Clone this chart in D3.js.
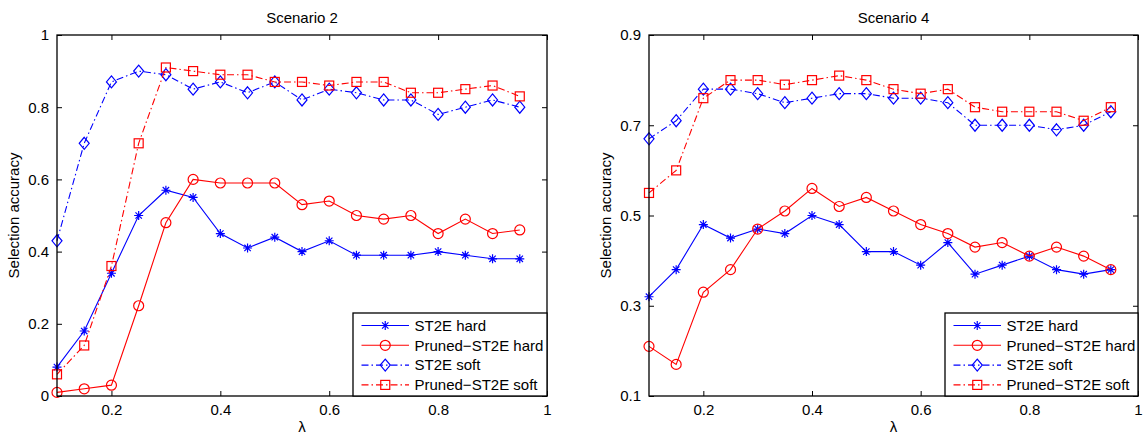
<!DOCTYPE html>
<html><head><meta charset="utf-8">
<script src="https://cdn.jsdelivr.net/npm/d3@7"></script>
<style>
html,body{margin:0;padding:0;background:#fff;}
svg text{font-family:"Liberation Sans",Arial,sans-serif;fill:#000;}
</style></head>
<body><svg id="chart" width="1143" height="434"></svg>
<script>
const lambda = [0.1,0.15,0.2,0.25,0.3,0.35,0.4,0.45,0.5,0.55,0.6,0.65,0.7,0.75,0.8,0.85,0.9,0.95];
const seriesNames = ["ST2E hard","Pruned\u2212ST2E hard","ST2E soft","Pruned\u2212ST2E soft"];
const xTicks = [0.2,0.4,0.6,0.8,1];

const s2_st2eHard   = [0.08,0.18,0.34,0.50,0.57,0.55,0.45,0.41,0.44,0.40,0.43,0.39,0.39,0.39,0.40,0.39,0.38,0.38];
const s2_prunedHard = [0.01,0.02,0.03,0.25,0.48,0.60,0.59,0.59,0.59,0.53,0.54,0.50,0.49,0.50,0.45,0.49,0.45,0.46];
const s2_st2eSoft   = [0.43,0.70,0.87,0.90,0.89,0.85,0.87,0.84,0.87,0.82,0.85,0.84,0.82,0.82,0.78,0.80,0.82,0.80];
const s2_prunedSoft = [0.06,0.14,0.36,0.70,0.91,0.90,0.89,0.89,0.87,0.87,0.86,0.87,0.87,0.84,0.84,0.85,0.86,0.83];
const s2_yTicks = [0,0.2,0.4,0.6,0.8,1];

const s4_st2eHard   = [0.32,0.38,0.48,0.45,0.47,0.46,0.50,0.48,0.42,0.42,0.39,0.44,0.37,0.39,0.41,0.38,0.37,0.38];
const s4_prunedHard = [0.21,0.17,0.33,0.38,0.47,0.51,0.56,0.52,0.54,0.51,0.48,0.46,0.43,0.44,0.41,0.43,0.41,0.38];
const s4_st2eSoft   = [0.67,0.71,0.78,0.78,0.77,0.75,0.76,0.77,0.77,0.76,0.76,0.75,0.70,0.70,0.70,0.69,0.70,0.73];
const s4_prunedSoft = [0.55,0.60,0.76,0.80,0.80,0.79,0.80,0.81,0.80,0.78,0.77,0.78,0.74,0.73,0.73,0.73,0.71,0.74];
const s4_yTicks = [0.1,0.3,0.5,0.7,0.9];

const styles = [
  {color:"#0000ff", dash:null, marker:"star"},
  {color:"#ff0000", dash:null, marker:"circle"},
  {color:"#0000ff", dash:"7,3,1.5,3", marker:"diamond"},
  {color:"#ff0000", dash:"7,3,1.5,3", marker:"square"}
];

const svg = d3.select("#chart");

function drawMarker(g, type, x, y, color){
  if(type==="circle"){
    g.append("circle").attr("cx",x).attr("cy",y).attr("r",5).attr("fill","none").attr("stroke",color).attr("stroke-width",1.2);
  } else if(type==="square"){
    g.append("rect").attr("x",x-4.5).attr("y",y-4.5).attr("width",9).attr("height",9).attr("fill","none").attr("stroke",color).attr("stroke-width",1.2);
  } else if(type==="diamond"){
    g.append("path").attr("d",`M${x},${y-6}L${x+5},${y}L${x},${y+6}L${x-5},${y}Z`).attr("fill","none").attr("stroke",color).attr("stroke-width",1.2);
  } else if(type==="star"){
    const r=4.5, d=3.2;
    g.append("path").attr("d",`M${x-r},${y}L${x+r},${y}M${x},${y-r}L${x},${y+r}M${x-d},${y-d}L${x+d},${y+d}M${x-d},${y+d}L${x+d},${y-d}`)
      .attr("stroke",color).attr("stroke-width",1.2).attr("fill","none");
  }
}

function panel(opts){
  const {left,right,top,bottom,yDomain,yTicks,data,title,legend} = opts;
  const g = svg.append("g");
  const x = d3.scaleLinear().domain([0.1,1]).range([left,right]);
  const y = d3.scaleLinear().domain(yDomain).range([bottom,top]);

  // series
  data.forEach((vals,i)=>{
    const st = styles[i];
    const line = d3.line().x((d,j)=>x(lambda[j])).y(d=>y(d));
    g.append("path").datum(vals).attr("d",line).attr("fill","none")
      .attr("stroke",st.color).attr("stroke-width",1.1)
      .attr("stroke-dasharray",st.dash);
    vals.forEach((v,j)=>drawMarker(g,st.marker,x(lambda[j]),y(v),st.color));
  });

  // axes
  const axB = d3.axisBottom(x).tickValues(xTicks).tickSizeInner(-5).tickSizeOuter(0).tickPadding(8).tickFormat(d3.format("~g"));
  const axT = d3.axisTop(x).tickValues(xTicks).tickSizeInner(-5).tickSizeOuter(0).tickFormat("");
  const axL = d3.axisLeft(y).tickValues(yTicks).tickSizeInner(-5).tickSizeOuter(0).tickPadding(8).tickFormat(d3.format("~g"));
  const axR = d3.axisRight(y).tickValues(yTicks).tickSizeInner(-5).tickSizeOuter(0).tickFormat("");
  [[axB,`translate(0,${bottom})`],[axT,`translate(0,${top})`],[axL,`translate(${left},0)`],[axR,`translate(${right},0)`]].forEach(([ax,tr])=>{
    const a = g.append("g").attr("transform",tr).call(ax);
    a.select(".domain").remove();
    a.selectAll("line").attr("stroke","#000").attr("stroke-width",1);
    a.selectAll("text").style("font-size","15px").attr("fill","#000");
  });
  g.append("rect").attr("x",left).attr("y",top).attr("width",right-left).attr("height",bottom-top)
    .attr("fill","none").attr("stroke","#000").attr("stroke-width",1.3);

  g.append("text").attr("x",(left+right)/2).attr("y",top-12).attr("text-anchor","middle").style("font-size","15px").text(title);
  g.append("text").attr("x",(left+right)/2).attr("y",bottom+36).attr("text-anchor","middle").style("font-size","15px").text("\u03bb");
  g.append("text").attr("transform",`translate(${left-38},${(top+bottom)/2}) rotate(-90)`).attr("text-anchor","middle").style("font-size","15px").text("Selection accuracy");

  // legend
  const lg = g.append("g");
  lg.append("rect").attr("x",legend.x).attr("y",legend.y).attr("width",right-legend.x).attr("height",bottom-legend.y)
    .attr("fill","#fff").attr("stroke","#000").attr("stroke-width",1.3);
  seriesNames.forEach((name,i)=>{
    const st = styles[i];
    const ry = legend.y + 12.5 + i*19.8;
    const lx0 = legend.x + 8.5, lx1 = legend.x + 56;
    lg.append("line").attr("x1",lx0).attr("x2",lx1).attr("y1",ry).attr("y2",ry)
      .attr("stroke",st.color).attr("stroke-width",1.1).attr("stroke-dasharray",st.dash);
    drawMarker(lg, st.marker, (lx0+lx1)/2, ry, st.color);
    lg.append("text").attr("x",legend.x+61.5).attr("y",ry).attr("dy","0.35em").style("font-size","15px").text(name);
  });
}

panel({left:57,right:547,top:35,bottom:396,yDomain:[0,1],yTicks:s2_yTicks,
  data:[s2_st2eHard,s2_prunedHard,s2_st2eSoft,s2_prunedSoft],title:"Scenario 2",legend:{x:353,y:313}});
panel({left:649,right:1138,top:35,bottom:396,yDomain:[0.1,0.9],yTicks:s4_yTicks,
  data:[s4_st2eHard,s4_prunedHard,s4_st2eSoft,s4_prunedSoft],title:"Scenario 4",legend:{x:945,y:313}});
</script></body></html>
